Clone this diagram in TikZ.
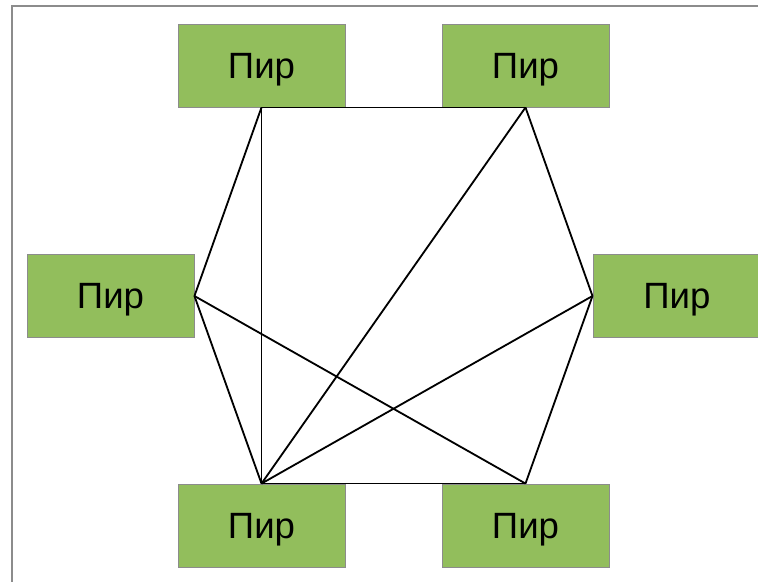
\documentclass[tikz,border=0pt]{standalone}
\usepackage{fontspec}
\setmainfont{Liberation Sans}
\usepackage{xcolor}
\usepackage{tikz}
\definecolor{peergreen}{RGB}{146,190,92}
\definecolor{framegray}{RGB}{140,140,140}

\begin{document}
\begin{tikzpicture}[x=0.025cm, y=-0.025cm,
    peer/.style={draw=framegray, line width=0.6pt, rectangle, fill=peergreen,
        minimum width=4.175cm, minimum height=2.075cm, text depth=0pt,
        font=\fontsize{26}{30}\selectfont},
    link/.style={draw=black, line width=1.3pt}]
    \useasboundingbox (0,0) rectangle (758,582);

    % Frame
    \draw[framegray, line width=1.3pt] (12,582) -- (12,6) -- (758,6);

    % Peers
    \node[peer] (topl) at (261.5, 65.5) {Пир};
    \node[peer] (topr) at (525.5, 65.5) {Пир};
    \node[peer] (left) at (110.5, 296) {Пир};
    \node[peer, minimum width=4.6cm, anchor=west] (right) at (592.5, 296) {\hspace{-0.4cm}Пир};
    \node[peer] (botl) at (261.5, 525.5) {Пир};
    \node[peer] (botr) at (525.5, 525.5) {Пир};

    % Links (hexagon)
    \draw[link] (topl.south) -- (topr.south);
    \draw[link] (topr.south) -- (right.west);
    \draw[link] (right.west) -- (botr.north);
    \draw[link] (botr.north) -- (botl.north);
    \draw[link] (botl.north) -- (left.east);
    \draw[link] (left.east) -- (topl.south);

    % Links (diagonals)
    \draw[link] (topl.south) -- (botl.north);
    \draw[link] (topr.south) -- (botl.north);
    \draw[link] (left.east) -- (botr.north);
    \draw[link] (right.west) -- (botl.north);

\end{tikzpicture}
\end{document}
